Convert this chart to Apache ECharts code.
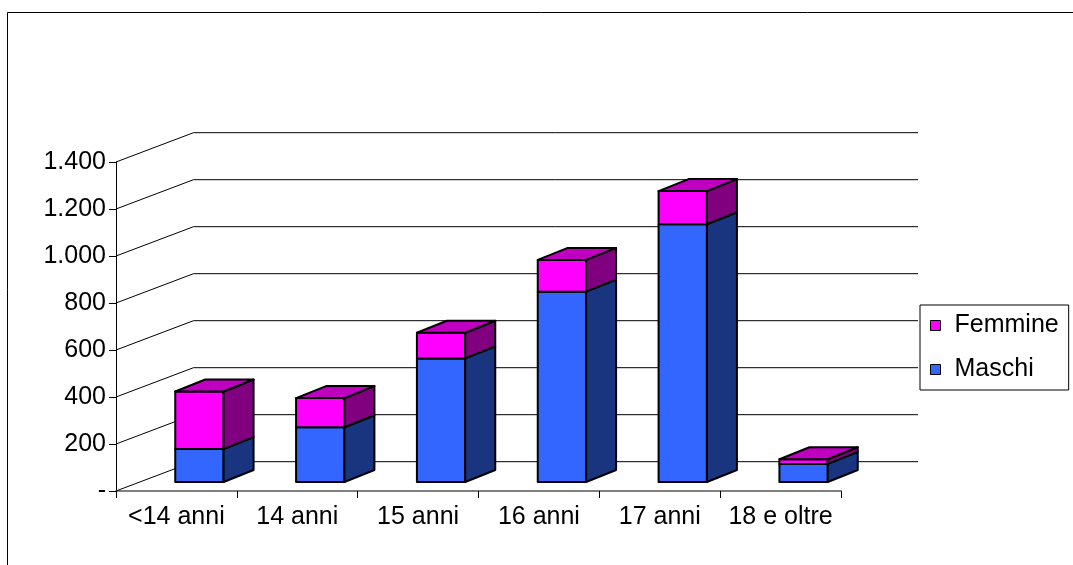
<!DOCTYPE html>
<html>
<head>
<meta charset="utf-8">
<script src="https://cdn.jsdelivr.net/npm/echarts@6/dist/echarts.min.js"></script>
<style>
html,body{margin:0;padding:0;background:#fff;}
#chart{width:1073px;height:565px;}
</style>
</head>
<body>
<div id="chart"></div>
<script>
// ---- data ----
const categories = ['<14 anni', '14 anni', '15 anni', '16 anni', '17 anni', '18 e oltre'];
const maschi  = [140, 233, 526, 810, 1097, 77];
const femmine = [245, 124, 109, 135, 141, 20];
const yTickValues = [0, 200, 400, 600, 800, 1000, 1200, 1400];
const yTickLabels = ['-', '200', '400', '600', '800', '1.000', '1.200', '1.400'];

// ---- style constants ----
const FONT = 'Liberation Sans, Arial, sans-serif';
const WALL_DX = 77.5, WALL_DY = -29.3;   // depth of the floor/back wall
const BAR_FX = 23, BAR_FY = -9;          // bar front face offset into depth
const BAR_DX = 30, BAR_DY = -12;         // bar depth
const BAR_W = 0.4;                        // fraction of category band

const colors = {
  Maschi:  { front: '#3366FF', side: '#1A3580', top: '#2050C0' },
  Femmine: { front: '#FF00FF', side: '#800080', top: '#C000C0' }
};

function makeBarRender(name, isTop) {
  const c = colors[name];
  return function (params, api) {
    const ci = api.value(0), lo = api.value(1), hi = api.value(2);
    const base = api.coord([ci, lo]);
    const top = api.coord([ci, hi]);
    const band = api.size([1, 0])[0];
    const w = band * BAR_W;
    const x0 = base[0] - w / 2 + BAR_FX, x1 = x0 + w;
    const yb = base[1] + BAR_FY, yt = top[1] + BAR_FY;
    const line = { stroke: '#000', lineWidth: 2, lineJoin: 'round' };
    const children = [
      { type: 'polygon', shape: { points: [[x0, yb], [x1, yb], [x1, yt], [x0, yt]] },
        style: Object.assign({ fill: c.front }, line) },
      { type: 'polygon', shape: { points: [[x1, yb], [x1 + BAR_DX, yb + BAR_DY], [x1 + BAR_DX, yt + BAR_DY], [x1, yt]] },
        style: Object.assign({ fill: c.side }, line) }
    ];
    if (isTop) {
      children.push({ type: 'polygon',
        shape: { points: [[x0, yt], [x1, yt], [x1 + BAR_DX, yt + BAR_DY], [x0 + BAR_DX, yt + BAR_DY]] },
        style: Object.assign({ fill: c.top }, line) });
    }
    return { type: 'group', children: children };
  };
}

const maschiData = categories.map((c, i) => [i, 0, maschi[i]]);
const femmineData = categories.map((c, i) => [i, maschi[i], maschi[i] + femmine[i]]);
const wallData = yTickValues.map(v => [0, v]);

const chart = echarts.init(document.getElementById('chart'), null, { renderer: 'canvas' });
chart.setOption({
  animation: false,
  backgroundColor: '#fff',
  textStyle: { fontFamily: FONT, color: '#000' },
  graphic: [{
    type: 'rect', silent: true, z: 0,
    shape: { x: 7.5, y: 12.5, width: 1200, height: 700 },
    style: { fill: 'none', stroke: '#000', lineWidth: 1 }
  }],
  grid: { left: 116, right: 232, top: 162, bottom: 74, containLabel: false },
  xAxis: {
    type: 'category',
    data: categories,
    boundaryGap: true,
    axisLine: { lineStyle: { color: '#808080', width: 2 } },
    axisTick: { show: true, length: 7, lineStyle: { color: '#000', width: 1 } },
    axisLabel: { fontFamily: FONT, fontSize: 25, color: '#000', margin: 14, interval: 0 },
    splitLine: { show: false }
  },
  yAxis: {
    type: 'value',
    min: 0, max: 1400, interval: 200,
    axisLine: { show: true, lineStyle: { color: '#000', width: 1 } },
    axisTick: { show: true, length: 7, lineStyle: { color: '#000' } },
    axisLabel: {
      fontFamily: FONT, fontSize: 25, color: '#000', margin: 10,
      formatter: function (v) {
        const i = yTickValues.indexOf(v);
        return i >= 0 ? yTickLabels[i] : '';
      }
    },
    splitLine: { show: false }
  },
  legend: {
    orient: 'vertical',
    left: 920, top: 305,
    data: ['Femmine', 'Maschi'],
    icon: 'rect',
    itemWidth: 10, itemHeight: 10,
    itemGap: 19,
    padding: [8, 10, 8, 10],
    borderColor: '#000', borderWidth: 1,
    backgroundColor: '#fff',
    itemStyle: { borderColor: '#000', borderWidth: 1 },
    textStyle: { fontFamily: FONT, fontSize: 25, color: '#000', padding: [0, 0, 0, 9] }
  },
  series: [
    {
      name: 'wall', type: 'custom', z: 1, silent: true,
      data: wallData, encode: { x: 0, y: 1 },
      renderItem: function (params, api) {
        const y = api.coord([0, api.value(1)])[1];
        const cs = params.coordSys;
        const left = cs.x, right = cs.x + cs.width;
        return {
          type: 'polyline',
          shape: { points: [[left, y], [left + WALL_DX, y + WALL_DY], [right + WALL_DX - 0.5, y + WALL_DY]] },
          style: { stroke: '#000', lineWidth: 1, fill: null }
        };
      }
    },
    {
      name: 'Maschi', type: 'custom', z: 3,
      itemStyle: { color: colors.Maschi.front },
      data: maschiData, encode: { x: 0, y: [1, 2] },
      renderItem: makeBarRender('Maschi', false)
    },
    {
      name: 'Femmine', type: 'custom', z: 4,
      itemStyle: { color: colors.Femmine.front },
      data: femmineData, encode: { x: 0, y: [1, 2] },
      renderItem: makeBarRender('Femmine', true)
    }
  ]
});
</script>
</body>
</html>
